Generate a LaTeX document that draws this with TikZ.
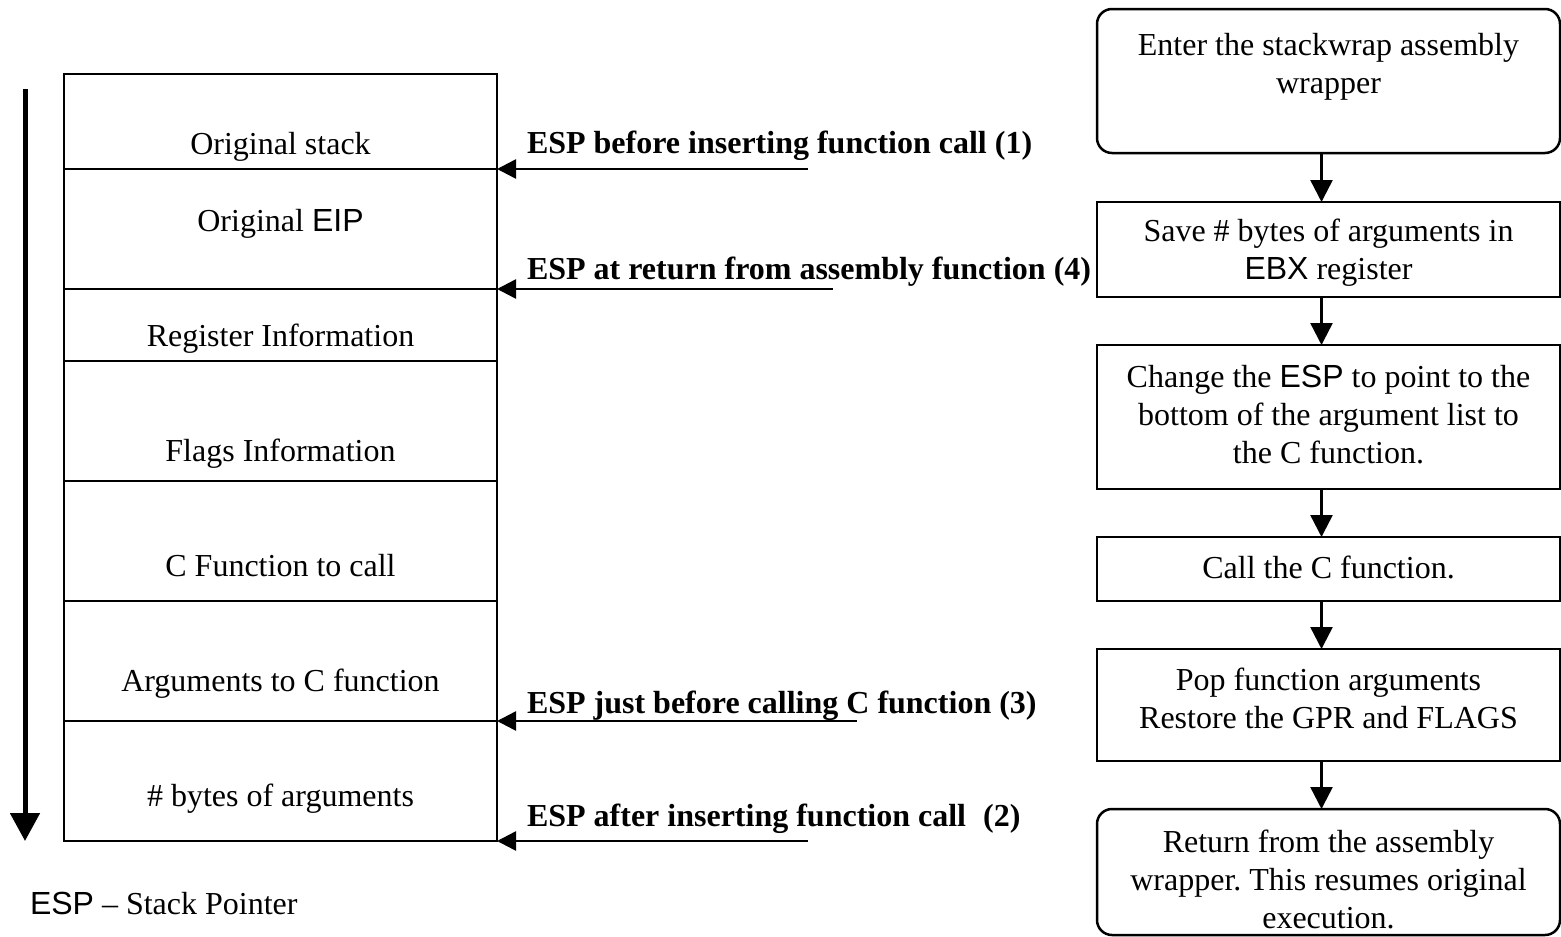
\documentclass[tikz,border=0pt]{standalone}
\usepackage{fontspec}
\setmainfont{Liberation Serif}
\newfontfamily\arial{Liberation Sans}
\usetikzlibrary{arrows.meta}
\frenchspacing

\newcommand{\reg}[1]{{\arial #1}}

\tikzset{
  txt/.style={font=\fontsize{32}{38}\selectfont, inner sep=0pt, outer sep=0pt},
  esplabel/.style={txt, font=\fontsize{32}{38}\selectfont\bfseries, anchor=base west},
  cell/.style={draw, line width=2.5pt, minimum width=433pt, inner sep=0pt, outer sep=0pt},
  fbox/.style={draw, line width=2.5pt, minimum width=463pt, inner sep=0pt, outer sep=0pt},
  rbox/.style={fbox, rounded corners=15pt},
  ftext/.style={txt, text width=463pt, align=flush center, anchor=base},
  esparrow/.style={line width=2.5pt, -{Triangle[length=19pt,width=19pt]}},
  flowarrow/.style={line width=2.5pt, -{Triangle[length=22pt,width=22pt]}},
  growarrow/.style={line width=5pt, -{Triangle[length=28pt,width=29pt]}}
}

\begin{document}
\begin{tikzpicture}[x=1pt, y=-1pt]
\useasboundingbox (0,0) rectangle (1561,937);

% ---------- the stack ----------
\node[cell, minimum height=95pt]  (c1) at (280.5,121.5) {};
\node[cell, minimum height=120pt] (c2) at (280.5,229) {};
\node[cell, minimum height=72pt]  (c3) at (280.5,325) {};
\node[cell, minimum height=120pt] (c4) at (280.5,421) {};
\node[cell, minimum height=120pt] (c5) at (280.5,541) {};
\node[cell, minimum height=120pt] (c6) at (280.5,661) {};
\node[cell, minimum height=120pt] (c7) at (280.5,781) {};

\node[txt, anchor=base] (t1) at (280.5,154) {Original stack};
\node[txt, anchor=base] (t2) at (280.5,231) {Original \reg{EIP}};
\node[txt, anchor=base] (t3) at (280.5,346) {Register Information};
\node[txt, anchor=base] (t4) at (280.5,461) {Flags Information};
\node[txt, anchor=base] (t5) at (280.5,576) {C Function to call};
\node[txt, anchor=base] (t6) at (280.5,691) {Arguments to C function};
\node[txt, anchor=base] (t7) at (280.5,806) {\# bytes of arguments};

% direction of stack growth
\coordinate (gtop) at (25,89);
\coordinate (gbot) at (25,841);
\draw[growarrow] (gtop) -- (gbot);

\node[txt, anchor=base west] (legend) at (30,914) {\reg{ESP} -- Stack Pointer};

% ---------- stack pointer positions ----------
\node[esplabel] (l1) at (527,153) {ESP before inserting function call (1)};
\node[esplabel] (l4) at (527,279) {ESP at return from assembly function (4)};
\node[esplabel] (l3) at (527,713) {ESP just before calling C function (3)};
\node[esplabel] (l2) at (527,826) {ESP after inserting function call\hspace{9pt} (2)};

\coordinate (e1) at (808,169);
\coordinate (e4) at (833,289);
\coordinate (e3) at (857,721);
\coordinate (e2) at (808,841);
\draw[esparrow] (e1) -- (c1.south east);
\draw[esparrow] (e4) -- (c2.south east);
\draw[esparrow] (e3) -- (c6.south east);
\draw[esparrow] (e2) -- (c7.south east);

% ---------- wrapper flow ----------
\node[rbox, minimum height=144pt] (b1) at (1328.5,81) {};
\node[fbox, minimum height=95pt]  (b2) at (1328.5,249.5) {};
\node[fbox, minimum height=144pt] (b3) at (1328.5,417) {};
\node[fbox, minimum height=64pt]  (b4) at (1328.5,569) {};
\node[fbox, minimum height=112pt] (b5) at (1328.5,705) {};
\node[rbox, minimum height=126pt] (b6) at (1328.5,872) {};

\node[ftext] (s1) at (1328.5,55)  {Enter the stackwrap assembly\\wrapper};
\node[ftext] (s2) at (1328.5,241) {Save \# bytes of arguments in\\\reg{EBX} register};
\node[ftext] (s3) at (1328.5,387) {Change the \reg{ESP} to point to the\\bottom of the argument list to\\the C function.};
\node[ftext] (s4) at (1328.5,578) {Call the C function.};
\node[ftext] (s5) at (1328.5,690) {Pop function arguments\\Restore the GPR and FLAGS};
\node[ftext] (s6) at (1328.5,852) {Return from the assembly\\wrapper. This resumes original\\execution.};

\draw[flowarrow] ([xshift=-7pt]b1.south) -- ([xshift=-7pt]b2.north);
\draw[flowarrow] ([xshift=-7pt]b2.south) -- ([xshift=-7pt]b3.north);
\draw[flowarrow] ([xshift=-7pt]b3.south) -- ([xshift=-7pt]b4.north);
\draw[flowarrow] ([xshift=-7pt]b4.south) -- ([xshift=-7pt]b5.north);
\draw[flowarrow] ([xshift=-7pt]b5.south) -- ([xshift=-7pt]b6.north);
\end{tikzpicture}
\end{document}
